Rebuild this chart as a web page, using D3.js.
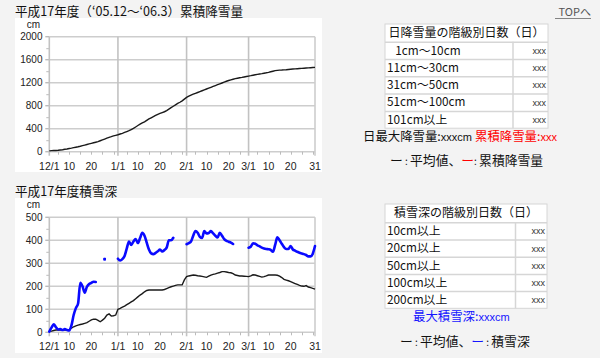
<!DOCTYPE html>
<html><head><meta charset="utf-8">
<script src="https://cdn.jsdelivr.net/npm/d3@7"></script>
<style>
html,body{margin:0;padding:0;background:#f3f3f3;}
svg{display:block;}
text{font-family:"Noto Sans CJK JP","Noto Sans",sans-serif;}
.num{font-family:"Liberation Sans",Arial,sans-serif;}
</style></head>
<body>
<svg id="c" width="600" height="358"></svg>
<script>
// ---------- data ----------
const startDate = new Date(2005, 11, 1);
const endDate = new Date(2006, 2, 31);
const xTickDates = ["2005-12-01","2005-12-10","2005-12-20","2006-01-01","2006-01-10","2006-01-20","2006-02-01","2006-02-10","2006-02-20","2006-03-01","2006-03-10","2006-03-20","2006-03-31"];
const xTickLabels = ["12/1","10","20","1/1","10","20","2/1","10","20","3/1","10","20","31"];
const monthStarts = ["2006-01-01","2006-02-01","2006-03-01"];

const snowfallTicks = [0,400,800,1200,1600,2000];
const depthTicks = [0,100,200,300,400,500];

// 累積降雪量 平均値 (cm), daily Dec 1 – Mar 31
const avgCumSnowfall = [
 15,18,20,22,25,30,35,42,48,55,62,70,78,86,95,105,115,125,135,145,155,165,175,190,205,220,235,250,262,275,285,
 295,308,320,335,350,365,385,405,430,455,480,500,520,545,570,590,610,630,650,665,680,695,715,740,765,790,815,840,860,885,915,
 945,965,985,1000,1015,1030,1045,1060,1075,1090,1105,1120,1135,1150,1165,1180,1195,1210,1225,1238,1250,1260,1270,1278,1285,1292,1300,1308,
 1315,1322,1330,1338,1345,1352,1358,1365,1372,1380,1390,1400,1410,1415,1418,1420,1423,1426,1430,1434,1437,1440,1443,1446,1449,1452,1455,1458,1461,1464,1466
];
// 積雪深 平均値 (cm)
const avgDepth = [
 3,5,8,10,10,10,10,10,10,13,18,24,28,31,34,36,39,42,48,54,57,57,52,46,53,61,75,80,71,72,75,
 100,104,109,114,120,126,132,138,146,154,162,168,176,182,184,184,184,184,184,184,184,186,190,194,198,201,204,206,206,206,228,
 242,245,247,249,248,246,245,243,241,239,244,249,252,254,257,260,264,264,262,260,259,255,249,247,245,245,244,243,
 242,245,250,249,246,243,240,242,245,249,249,249,249,248,244,238,230,227,224,220,216,212,208,204,201,200,203,197,194,191,188
];
// 積雪深 (cm), null = 欠測
const depth = [
 3,20,35,22,12,14,10,14,10,8,30,75,105,125,215,200,172,198,210,215,220,219,null,null,null,318,null,null,null,null,null,
 320,312,318,332,365,395,380,395,405,388,410,433,420,390,360,343,340,345,352,360,351,358,368,400,400,411,null,null,null,null,null,
 383,388,395,420,440,433,415,410,440,430,432,440,430,420,412,433,420,405,398,394,390,384,null,null,null,null,null,null,
 368,372,387,385,378,374,368,364,362,361,358,350,380,413,400,385,370,362,362,375,360,355,350,346,343,340,336,330,330,342,375
];

const table1Title = "日降雪量の階級別日数（日）";
const table1Rows = ["\u2002\u20091cm～10cm","11cm～30cm","31cm～50cm","51cm～100cm","101cm以上"];
const table1Vals = ["xxx","xxx","xxx","xxx","xxx"];
const table2Title = "積雪深の階級別日数（日）";
const table2Rows = ["10cm以上","20cm以上","50cm以上","100cm以上","200cm以上"];
const table2Vals = ["xxx","xxx","xxx","xxx","xxx"];

// ---------- drawing ----------
const svg = d3.select("#c");
const parse = d3.timeParse("%Y-%m-%d");
const dates = d3.timeDay.range(startDate, d3.timeDay.offset(endDate, 1));

// white panels
svg.append("rect").attr("x",15).attr("y",18).attr("width",307).attr("height",154).attr("fill","#fff");
svg.append("rect").attr("x",15).attr("y",198).attr("width",307).attr("height",155).attr("fill","#fff");

function chart(cfg){
  const g = svg.append("g");
  const x = d3.scaleTime().domain([startDate, endDate]).range([49.3, 315]);
  const y = d3.scaleLinear().domain([0, cfg.max]).range([cfg.bottom, cfg.top]);
  // title
  svg.append("text").attr("x",15).attr("y",cfg.titleY).attr("font-size",12.6).attr("fill","#111").text(cfg.title);
  // horizontal grid
  g.selectAll(".hg").data(cfg.ticks).join("line")
    .attr("x1",x.range()[0]).attr("x2",x.range()[1])
    .attr("y1",d=>y(d)).attr("y2",d=>y(d))
    .attr("stroke","#cdcdcd").attr("stroke-width",1.6);
  // minor y ticks
  const minor = d3.range(0, cfg.max + 1e-9, cfg.step/2).filter(v => !cfg.ticks.includes(v));
  g.selectAll(".my").data(minor).join("line")
    .attr("x1",x.range()[0]-3).attr("x2",x.range()[0])
    .attr("y1",d=>y(d)+0.5).attr("y2",d=>y(d)+0.5).attr("stroke","#bbb");
  g.selectAll(".My").data(cfg.ticks).join("line")
    .attr("x1",x.range()[0]-4).attr("x2",x.range()[0])
    .attr("y1",d=>y(d)).attr("y2",d=>y(d)).attr("stroke","#bbb").attr("stroke-width",1.4);
  // vertical grid (month starts) + borders
  const vlines = [startDate, ...monthStarts.map(parse)];
  g.selectAll(".vg").data(vlines).join("line")
    .attr("x1",d=>x(d)).attr("x2",d=>x(d))
    .attr("y1",y(cfg.max)).attr("y2",y(0)+4)
    .attr("stroke","#c2c2c2").attr("stroke-width",1.6);
  g.append("line").attr("x1",x(endDate)).attr("x2",x(endDate))
    .attr("y1",y(cfg.max)).attr("y2",y(0)+4).attr("stroke","#cdcdcd").attr("stroke-width",1.6);
  // minor x ticks every 5 days
  const minorX = dates.filter(d => d.getDate() % 5 === 0);
  g.selectAll(".mx").data(minorX).join("line")
    .attr("x1",d=>Math.round(x(d))+0.5).attr("x2",d=>Math.round(x(d))+0.5)
    .attr("y1",y(0)).attr("y2",y(0)+3).attr("stroke","#bbb");
  // y labels
  g.selectAll(".yl").data(cfg.ticks).join("text").attr("class","num")
    .attr("x",42.5).attr("y",d=>y(d)+3.5).attr("text-anchor","end")
    .attr("font-size",10).attr("fill","#222").text(d=>d);
  g.append("text").attr("class","num").attr("x",40).attr("y",cfg.top-9).attr("text-anchor","end")
    .attr("font-size",10).attr("fill","#222").text("cm");
  // x labels
  g.selectAll(".xl").data(xTickDates).join("text").attr("class","num")
    .attr("x",d=>x(parse(d))).attr("y",y(0)+18).attr("text-anchor","middle")
    .attr("font-size",10.5).attr("fill","#222").text((d,i)=>xTickLabels[i]);
  return {g,x,y};
}

// chart 1: 累積降雪量
const c1 = chart({title:"平成17年度（‘05.12～‘06.3）累積降雪量", titleY:16, top:36.7, bottom:151.7, max:2000, step:400, ticks:snowfallTicks});
c1.g.append("path").datum(avgCumSnowfall)
  .attr("d", d3.line().x((d,i)=>c1.x(dates[i])).y(d=>c1.y(d)))
  .attr("fill","none").attr("stroke","#1a1a1a").attr("stroke-width",1.4);

// chart 2: 積雪深
const c2 = chart({title:"平成17年度積雪深", titleY:196, top:217.3, bottom:332.3, max:500, step:100, ticks:depthTicks});
c2.g.append("path").datum(avgDepth)
  .attr("d", d3.line().x((d,i)=>c2.x(dates[i])).y(d=>c2.y(d)))
  .attr("fill","none").attr("stroke","#1a1a1a").attr("stroke-width",1.4);
c2.g.append("path").datum(depth)
  .attr("d", d3.line().defined(d=>d!=null).curve(d3.curveMonotoneX).x((d,i)=>c2.x(dates[i])).y(d=>c2.y(d)))
  .attr("fill","none").attr("stroke","#0a0aff").attr("stroke-width",2.6).attr("stroke-linejoin","round").attr("stroke-linecap","round");
const isolated = depth.map((d,i)=>({d,i})).filter(o=>o.d!=null && depth[o.i-1]==null && depth[o.i+1]==null);
c2.g.selectAll(".dot").data(isolated).join("rect")
  .attr("x",o=>c2.x(dates[o.i])-1.3).attr("y",o=>c2.y(o.d)-1.3).attr("width",2.6).attr("height",2.6).attr("fill","#0a0aff");

// TOP link
svg.append("text").attr("x",591).attr("y",16).attr("text-anchor","end")
  .attr("font-size",11).attr("fill","#555").text("TOPへ");
svg.append("line").attr("x1",555).attr("x2",591).attr("y1",18.5).attr("y2",18.5).attr("stroke","#666").attr("stroke-width",0.8);

// tables
function table(cfg){
  const g = svg.append("g");
  const hdrH = cfg.hdrH, rowH = cfg.rowH;
  const total = hdrH + rowH*cfg.rows.length;
  g.append("rect").attr("x",cfg.x0).attr("y",cfg.y0).attr("width",cfg.x1-cfg.x0).attr("height",total)
    .attr("fill","#fff").attr("stroke","#d6d6d6");
  g.append("text").attr("x",(cfg.x0+cfg.x1)/2).attr("y",cfg.y0+hdrH/2+4.3).attr("text-anchor","middle")
    .attr("font-size",12).attr("fill","#111").text(cfg.title);
  const ys = cfg.rows.map((r,i)=>cfg.y0+hdrH+i*rowH);
  g.selectAll(".rl").data(ys).join("line").attr("x1",cfg.x0).attr("x2",cfg.x1)
    .attr("y1",d=>d+0.5).attr("y2",d=>d+0.5).attr("stroke","#d6d6d6").attr("stroke-width",1.5);
  g.append("line").attr("x1",cfg.xs+0.5).attr("x2",cfg.xs+0.5).attr("y1",cfg.y0+hdrH).attr("y2",cfg.y0+total)
    .attr("stroke","#d6d6d6").attr("stroke-width",1.5);
  g.selectAll(".rt").data(cfg.rows).join("text").attr("xml:space","preserve").style("white-space","pre")
    .attr("x",cfg.x0+2).attr("y",(d,i)=>ys[i]+rowH/2+4.2).attr("font-size",11.8).attr("fill","#111").text(d=>d);
  g.selectAll(".rv").data(cfg.vals).join("text").attr("class","num")
    .attr("x",cfg.x1-2).attr("y",(d,i)=>ys[i]+rowH/2+3.5).attr("text-anchor","end")
    .attr("font-size",9).attr("fill","#333").text(d=>d);
}
table({x0:385,x1:548,xs:512.5,y0:24,hdrH:17.7,rowH:17.3,title:table1Title,rows:table1Rows,vals:table1Vals});
table({x0:385,x1:547,xs:515,y0:204,hdrH:18.3,rowH:17.2,title:table2Title,rows:table2Rows,vals:table2Vals});

// notes
const n1 = svg.append("text").attr("x",363).attr("y",141).attr("font-size",12.4).attr("fill","#111");
n1.append("tspan").text("日最大降雪量:");
n1.append("tspan").attr("class","num").attr("font-size",11).text("xxxcm ");
n1.append("tspan").attr("fill","#f00").text("累積降雪量:");
n1.append("tspan").attr("class","num").attr("fill","#f00").attr("font-size",11).text("xxx");

const l1 = svg.append("text").attr("x",390).attr("y",165).attr("font-size",12.8).attr("fill","#111");
l1.append("tspan").text("ー");
l1.append("tspan").attr("font-size",10).text(" : ");
l1.append("tspan").text("平均値、");
l1.append("tspan").attr("fill","#f00").text("ー");
l1.append("tspan").attr("font-size",10).text(": ");
l1.append("tspan").text("累積降雪量");

const n2 = svg.append("text").attr("x",413).attr("y",321).attr("font-size",12.4).attr("fill","#1515ff");
n2.append("tspan").text("最大積雪深:");
n2.append("tspan").attr("class","num").attr("font-size",11).text("xxxcm");

const l2 = svg.append("text").attr("x",400).attr("y",345.5).attr("font-size",12.8).attr("fill","#111");
l2.append("tspan").text("ー");
l2.append("tspan").attr("font-size",10).text(" : ");
l2.append("tspan").text("平均値、");
l2.append("tspan").attr("fill","#1515ff").text("ー");
l2.append("tspan").attr("font-size",10).text(" : ");
l2.append("tspan").text("積雪深");
</script>
</body></html>
